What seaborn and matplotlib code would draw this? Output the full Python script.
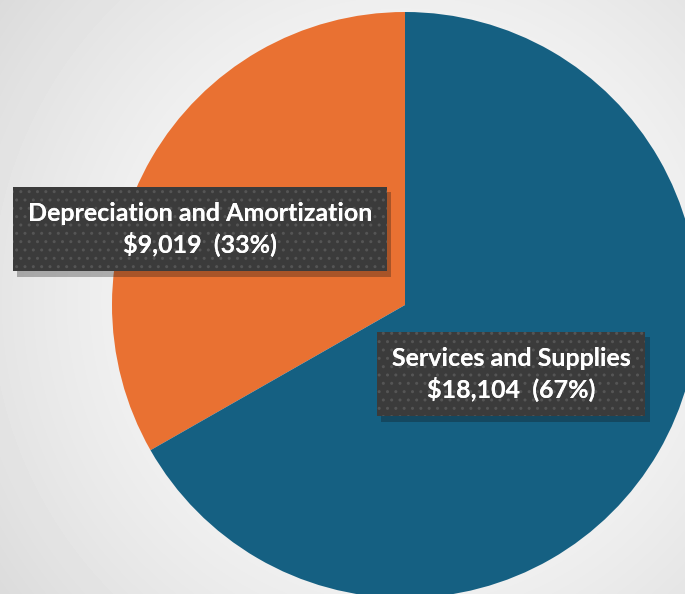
import numpy as np
import matplotlib
matplotlib.use("Agg")
import matplotlib.pyplot as plt
import matplotlib.patheffects as pe
import seaborn as sns

categories = ["Depreciation and Amortization", "Services and Supplies"]
values = [9019, 18104]
colors = ["#E97132", "#156082"]

sns.set_style("white")
plt.rcParams['font.family'] = ['Lato', 'DejaVu Sans']
plt.rcParams['hatch.linewidth'] = 1.0

W, H = 685, 594
fig = plt.figure(figsize=(W / 100, H / 100), dpi=100)

# background: soft radial gradient
bg = fig.add_axes([0, 0, 1, 1])
yy, xx = np.mgrid[0:H, 0:W]
d = np.sqrt(((xx - 405) / 500.0) ** 2 + ((yy - 300) / 500.0) ** 2)
shade = 1.0 - 0.14 * np.clip(d, 0, 1.2) ** 1.5
bg.imshow(shade, cmap="gray", vmin=0, vmax=1, extent=[0, W, 0, H], aspect="auto")
bg.set_axis_off()

ax = fig.add_axes([0, 0, 1, 1])
cx, cy, r = 405, H - 305, 293
wedges, _ = ax.pie(values, colors=colors, startangle=90, counterclock=True,
                   center=(cx, cy), radius=r, frame=True,
                   wedgeprops=dict(linewidth=0))
ax.set_xlim(0, W)
ax.set_ylim(0, H)
ax.set_axis_off()

total = sum(values)
label_pos = [(200, H - 229), (511, H - 374)]
for cat, val, (lx, ly) in zip(categories, values, label_pos):
    pct = val / total * 100
    txt = f"{cat}\n${val:,}  ({pct:.0f}%)"
    kw = dict(ha="center", va="center", color="white", fontsize=18,
              fontweight="bold", linespacing=1.3)
    t = ax.text(lx, ly, txt,
                bbox=dict(boxstyle="square,pad=0.6", facecolor="#3B3B3B",
                          linewidth=0), **kw)
    t.get_bbox_patch().set_path_effects([
        pe.SimplePatchShadow(offset=(3, -4), alpha=0.3), pe.Normal()])
    # dotted texture on top of the box
    ax.text(lx, ly, txt,
            bbox=dict(boxstyle="square,pad=0.6", facecolor="none",
                      edgecolor="#555555", linewidth=0, hatch=".."), **kw)

fig.savefig("out.png", dpi=100)
